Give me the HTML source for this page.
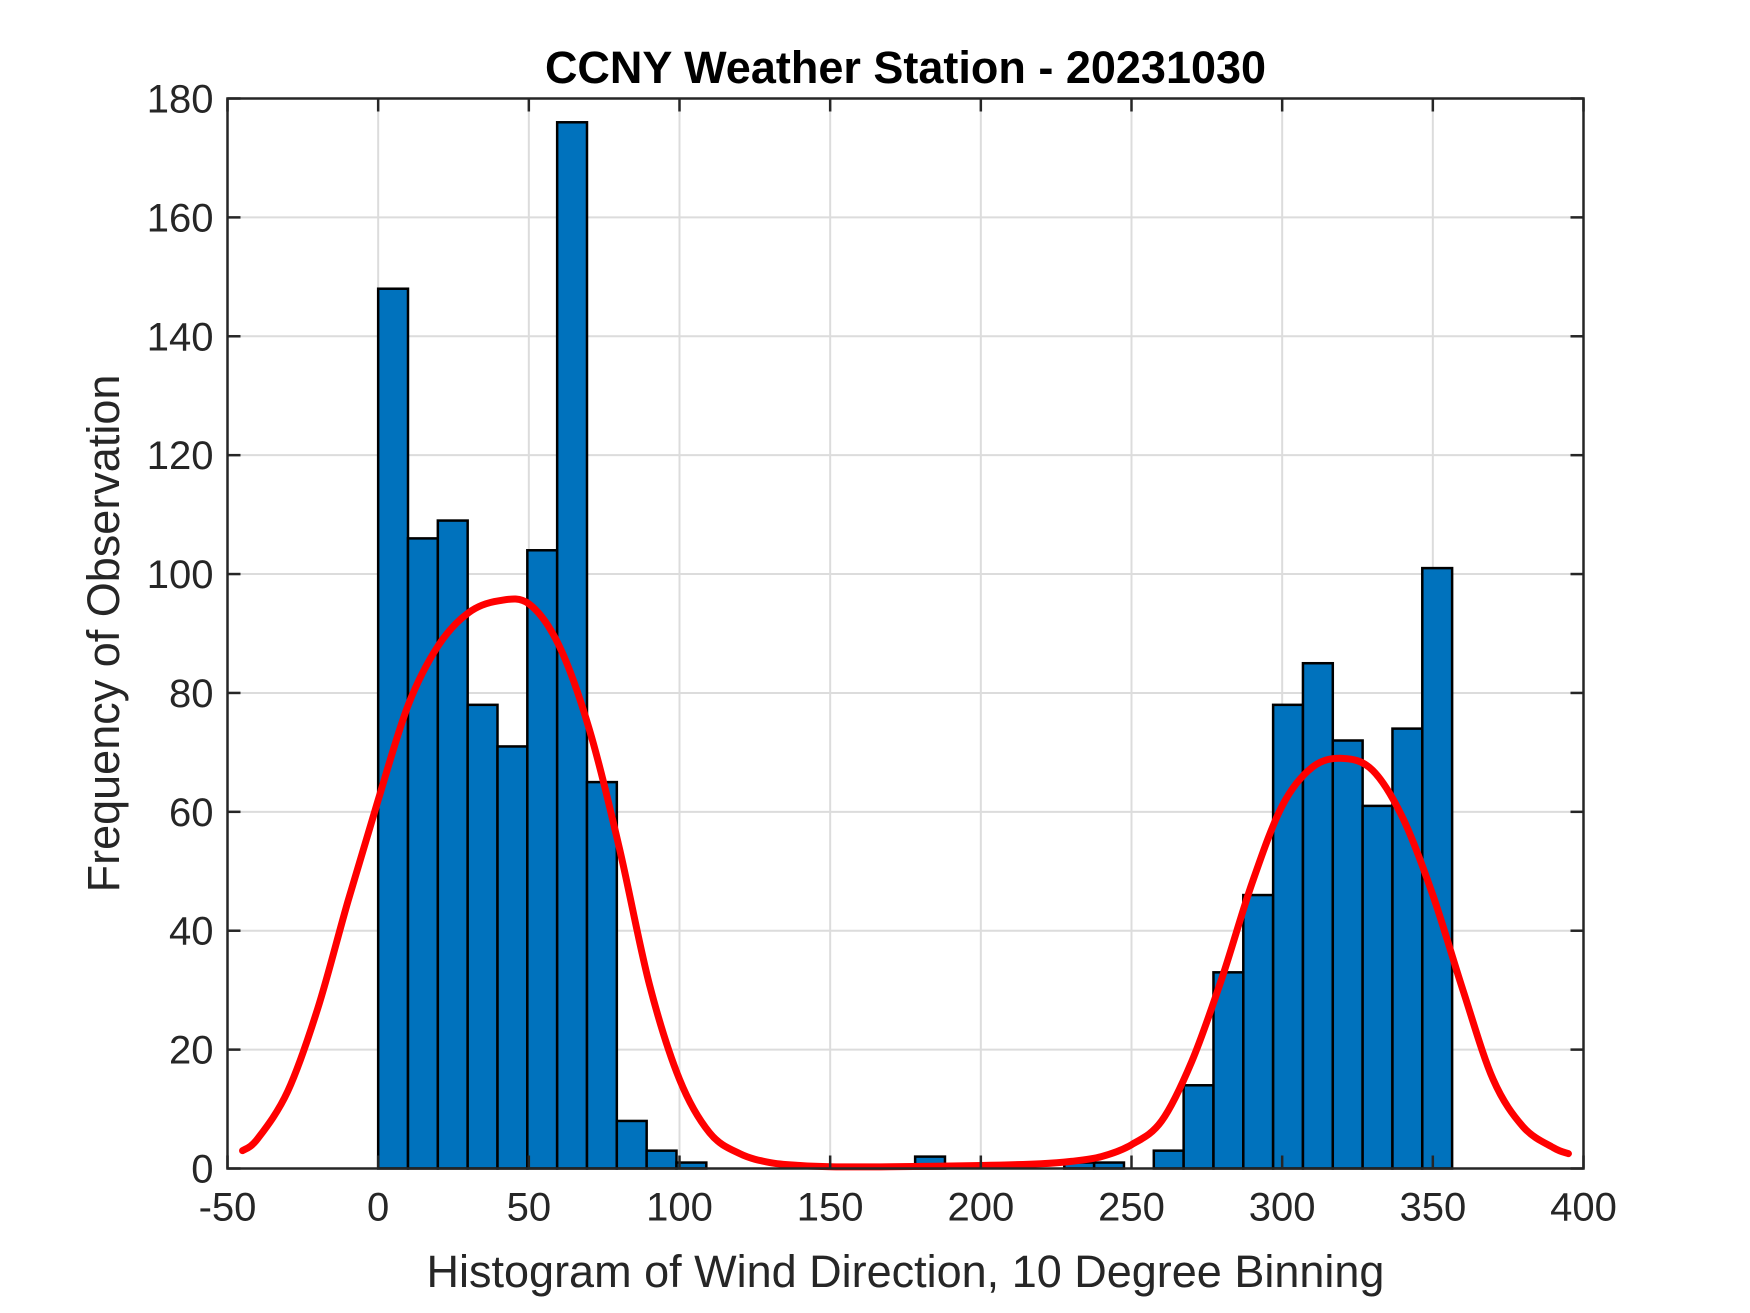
<!DOCTYPE html>
<html><head><meta charset="utf-8"><style>
body{margin:0;background:#fff;}
svg{display:block;font-family:"Liberation Sans",Arial,sans-serif;}
</style></head><body>
<svg id="chart" width="1750" height="1313"></svg>
<script>
const binWidth=9.9;
const counts=[148,106,109,78,71,104,176,65,8,3,1,0,0,0,0,0,0,0,2,0,0,0,0,1,1,0,3,14,33,46,78,85,72,61,74,101];
const curveX=[-45,-40,-30,-20,-10,0,10,20,30,40,50,60,70,80,90,100,110,120,130,140,150,170,200,220,230,240,250,260,270,280,290,300,310,320,330,340,350,360,370,380,390,395];
const curveY=[3,5,13,27,45,62,78,88,93.5,95.5,95,88,74,54,31,15,6,2.5,1,0.5,0.3,0.3,0.5,0.8,1.2,2,4,8,18,32,48,61,67.5,69,67,59,46,30,15,7,3.5,2.5];
const xTicks=[-50,0,50,100,150,200,250,300,350,400];
const yTicks=[0,20,40,60,80,100,120,140,160,180];
const L=227.5,R=1583.5,T=98.5,B=1168.5;
const xs=v=>L+(v+50)/450*(R-L);
const ys=v=>B-v/180*(B-T);
const svg=document.getElementById('chart');
const NS='http://www.w3.org/2000/svg';
function mk(t,a){const e=document.createElementNS(NS,t);for(const k in a)e.setAttribute(k,a[k]);svg.appendChild(e);return e;}
mk('rect',{x:L,y:T,width:R-L,height:B-T,fill:'#fff'});
xTicks.forEach(v=>{const g=mk('line',{x1:xs(v),x2:xs(v),y1:T,y2:B,stroke:'#dcdcdc','stroke-width':2});

});
yTicks.forEach(v=>{const g=mk('line',{x1:L,x2:R,y1:ys(v),y2:ys(v),stroke:'#dcdcdc','stroke-width':2});

});
counts.forEach((c,i)=>{const b=i*binWidth;const r=mk('rect',{x:xs(b),y:ys(c),width:xs(b+binWidth)-xs(b),height:B-ys(c),fill:'#0072bd',stroke:'#000','stroke-width':2.5});

});
const pts=curveX.map((x,i)=>[xs(x),ys(curveY[i])]);
let d='M'+pts[0][0]+','+pts[0][1];
for(let i=0;i<pts.length-1;i++){const p0=pts[Math.max(0,i-1)],p1=pts[i],p2=pts[i+1],p3=pts[Math.min(pts.length-1,i+2)];
d+=' C'+(p1[0]+(p2[0]-p0[0])/6)+','+(p1[1]+(p2[1]-p0[1])/6)+' '+(p2[0]-(p3[0]-p1[0])/6)+','+(p2[1]-(p3[1]-p1[1])/6)+' '+p2[0]+','+p2[1];}
const p=mk('path',{d:d,fill:'none',stroke:'#ff0000','stroke-width':7,'stroke-linejoin':'round','stroke-linecap':'round'});


const ax=mk('rect',{x:L,y:T,width:R-L,height:B-T,fill:'none',stroke:'#262626','stroke-width':2.5});


xTicks.forEach(v=>{mk('line',{x1:xs(v),x2:xs(v),y1:B,y2:B-13,stroke:'#262626','stroke-width':2.5});
mk('line',{x1:xs(v),x2:xs(v),y1:T,y2:T+13,stroke:'#262626','stroke-width':2.5});
const t=mk('text',{x:xs(v),y:B+52,'text-anchor':'middle','font-size':40,fill:'#262626'});t.textContent=v;

});
yTicks.forEach(v=>{mk('line',{x1:L,x2:L+13,y1:ys(v),y2:ys(v),stroke:'#262626','stroke-width':2.5});
mk('line',{x1:R,x2:R-13,y1:ys(v),y2:ys(v),stroke:'#262626','stroke-width':2.5});
const t=mk('text',{x:L-14,y:ys(v)+14,'text-anchor':'end','font-size':40,fill:'#262626'});t.textContent=v;

});
const xt=mk('text',{x:(L+R)/2,y:1287,'text-anchor':'middle','font-size':45,fill:'#262626'});xt.textContent='Histogram of Wind Direction, 10 Degree Binning';


const yt=mk('text',{x:0,y:0,'text-anchor':'middle','font-size':45,fill:'#262626',transform:'translate(119,'+((T+B)/2)+') rotate(-90)'});yt.textContent='Frequency of Observation';


const tt=mk('text',{x:(L+R)/2,y:83,'text-anchor':'middle','font-size':45,'font-weight':'bold',fill:'#000'});tt.textContent='CCNY Weather Station - 20231030';


</script>
</body></html>
